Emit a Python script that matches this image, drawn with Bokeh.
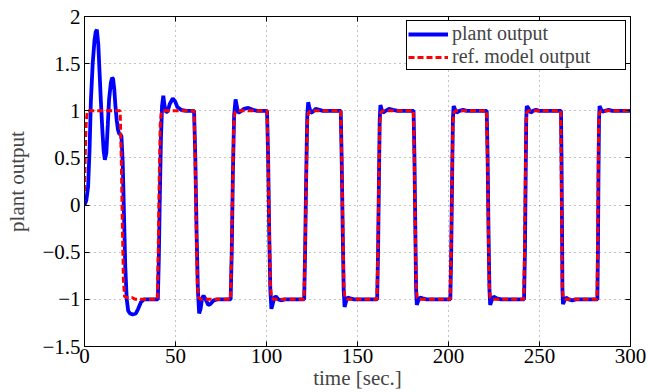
from bokeh.plotting import figure
from bokeh.models import FixedTicker, CustomJSTickFormatter, LinearAxis, Legend, LegendItem, Range1d
from bokeh.embed import file_html
from bokeh.resources import INLINE

# plant output
plant_t = [0, 1, 2, 2.8, 3.5, 4.5, 5.5, 6.2, 6.8, 7.6, 8.3, 9.0, 9.8, 10.5, 11.2, 12.0, 12.8, 13.5, 14.5, 15.2, 15.7, 16.4, 17.0, 17.7, 18.4, 19.0, 19.7, 20.3,
           21.0, 21.7, 22.4, 23.2, 24.0, 25.0, 26.5, 28.2, 29.5, 31.0, 32.7, 35.0, 38.0, 40.3,
           40.8, 41.4, 42.0, 42.6, 43.3, 44.0, 44.8, 45.6, 46.8, 48.5, 49.8, 51.0, 53.0, 56.0, 60.2,
           60.9, 61.6, 62.3, 63.0, 63.8, 64.6, 65.4, 66.6, 68.0, 69.2, 71.0, 73.0, 80.3,
           80.9, 81.5, 82.2, 83.0, 83.7, 84.4, 85.5, 87.5, 90.0, 92.5, 95.0, 100.3,
           100.9, 101.5, 102.1, 102.7, 103.4, 104.3, 105.2, 106.5, 108.0, 110.0, 120.7,
           121.2, 121.8, 122.4, 122.9, 123.5, 124.3, 125.5, 127.0, 129.0, 131.0, 140.8,
           141.3, 141.9, 142.4, 142.9, 143.6, 144.5, 146.0, 148.0, 160.8,
           161.3, 161.8, 162.2, 162.6, 163.2, 164.0, 165.5, 167.3, 169.5, 172.0, 180.8,
           181.3, 181.8, 182.2, 182.6, 183.3, 184.3, 185.8, 188.0, 201.0,
           201.5, 202.0, 202.4, 202.8, 203.5, 204.4, 206.0, 208.0, 210.0, 221.0,
           221.5, 222.0, 222.5, 222.9, 223.6, 224.8, 226.5, 229.0, 241.5,
           242.0, 242.4, 242.7, 243.0, 243.8, 245.2, 246.5, 248.0, 250.0, 261.8,
           262.1, 262.4, 262.6, 262.9, 263.6, 264.5, 266.0, 268.0, 270.0, 281.8,
           282.1, 282.4, 282.7, 283.0, 283.7, 284.6, 286.0, 288.0, 290.0, 300.0]
plant_y = [0, 0.05, 0.2, 0.6, 1.1, 1.5, 1.75, 1.84, 1.86, 1.7, 1.4, 1.1, 0.8, 0.58, 0.48, 0.55, 0.85, 1.12, 1.3, 1.35, 1.34, 1.22, 1.05, 0.9, 0.8, 0.76, 0.75, 0.73,
           0.45, -0.1, -0.65, -1.0, -1.12, -1.15, -1.16, -1.15, -1.1, -1.03, -1.0, -1.0, -1.0, -1.0,
           -0.6, 0.1, 0.7, 1.05, 1.16, 1.05, 0.99, 0.99, 1.07, 1.13, 1.1, 1.04, 1.01, 1.0, 1.0,
           0.5, -0.3, -0.9, -1.15, -1.1, -0.99, -0.96, -1.0, -1.06, -1.05, -1.01, -1.0, -1.0,
           -0.5, 0.3, 0.95, 1.12, 1.05, 0.98, 0.99, 1.02, 1.03, 1.01, 1.0, 1.0,
           0.5, -0.3, -0.9, -1.1, -1.05, -0.98, -0.97, -1.0, -1.01, -1.0, -1.0,
           -0.5, 0.3, 0.95, 1.09, 1.04, 0.98, 0.99, 1.02, 1.01, 1.0, 1.0,
           0.5, -0.3, -0.9, -1.08, -1.03, -0.98, -0.99, -1.0, -1.0,
           -0.5, 0.3, 0.9, 1.06, 1.02, 0.98, 1.0, 1.02, 1.01, 1.0, 1.0,
           0.5, -0.3, -0.9, -1.06, -1.02, -0.98, -0.99, -1.0, -1.0,
           -0.5, 0.3, 0.9, 1.05, 1.02, 0.98, 1.0, 1.01, 1.0, 1.0,
           0.5, -0.3, -0.9, -1.06, -1.02, -0.97, -0.99, -1.0, -1.0,
           -0.5, 0.3, 0.9, 1.05, 1.03, 0.98, 1.0, 1.01, 1.0, 1.0,
           0.5, -0.3, -0.9, -1.05, -1.02, -0.98, -1.0, -1.01, -1.0, -1.0,
           -0.5, 0.3, 0.9, 1.05, 1.02, 0.99, 1.0, 1.01, 1.0, 1.0]

# reference model output
ref_t = [0, 0.5, 1.0, 1.6, 19.6, 20.2, 20.8, 21.4, 22.0, 23.0, 26.0, 28.0,
         40.0, 40.5, 41.0, 41.6, 42.2, 43.5, 60.2, 60.8, 61.4, 62.0, 62.6, 64.0,
         80.2, 80.8, 81.4, 82.0, 82.6, 84.0, 100.3, 100.9, 101.5, 102.1, 102.7, 104.0,
         120.6, 121.2, 121.8, 122.4, 123.0, 124.5, 140.7, 141.3, 141.9, 142.5, 143.0, 144.5,
         160.7, 161.2, 161.7, 162.2, 162.7, 164.0, 180.7, 181.2, 181.7, 182.2, 182.7, 184.0,
         200.9, 201.4, 201.9, 202.4, 202.9, 204.0, 220.9, 221.4, 221.9, 222.4, 222.9, 224.0,
         241.3, 241.8, 242.2, 242.6, 243.0, 244.0, 261.6, 261.9, 262.2, 262.5, 262.9, 264.0,
         281.6, 281.9, 282.2, 282.5, 282.9, 284.0, 300.0]
ref_y = [0.15, 0.6, 0.9, 1.0, 1.0, 0.5, -0.2, -0.8, -0.97, -0.98, -0.98, -1.0,
         -1.0, -0.5, 0.2, 0.85, 0.98, 1.0, 1.0, 0.5, -0.2, -0.85, -0.98, -1.0,
         -1.0, -0.5, 0.2, 0.85, 0.98, 1.0, 1.0, 0.5, -0.2, -0.85, -0.98, -1.0,
         -1.0, -0.5, 0.2, 0.85, 0.98, 1.0, 1.0, 0.5, -0.2, -0.85, -0.98, -1.0,
         -1.0, -0.5, 0.2, 0.85, 0.98, 1.0, 1.0, 0.5, -0.2, -0.85, -0.98, -1.0,
         -1.0, -0.5, 0.2, 0.85, 0.98, 1.0, 1.0, 0.5, -0.2, -0.85, -0.98, -1.0,
         -1.0, -0.5, 0.2, 0.85, 0.98, 1.0, 1.0, 0.5, -0.2, -0.85, -0.98, -1.0,
         -1.0, -0.5, 0.2, 0.85, 0.98, 1.0, 1.0]

x_ticks = [0, 50, 100, 150, 200, 250, 300]
y_ticks = [-1.5, -1, -0.5, 0, 0.5, 1, 1.5, 2]

FONT = "Liberation Serif"

p = figure(width=648, height=392, output_backend="svg", toolbar_location=None,
           x_range=Range1d(0, 300), y_range=Range1d(-1.5, 2),
           min_border_left=84, min_border_right=18, min_border_top=16, min_border_bottom=43)

p.background_fill_color = "white"
p.border_fill_color = "white"
p.outline_line_color = "black"
p.outline_line_width = 1

r1 = p.line(plant_t, plant_y, line_color="#0000ff", line_width=3.8)
r2 = p.line(ref_t, ref_y, line_color="#ff0000", line_width=3, line_dash="6 3")

for ax in [p.xaxis[0], p.yaxis[0]]:
    ax.major_tick_in = 5
    ax.major_tick_out = 0
    ax.minor_tick_line_color = None
    ax.major_label_text_font = FONT
    ax.major_label_text_font_size = "21px"
    ax.major_label_text_color = "black"
    ax.axis_label_text_font = FONT
    ax.axis_label_text_font_size = "21px"
    ax.axis_label_text_font_style = "normal"
    ax.axis_line_color = "black"
    ax.major_tick_line_color = "black"

p.xaxis[0].ticker = FixedTicker(ticks=x_ticks)
p.yaxis[0].ticker = FixedTicker(ticks=y_ticks)
p.yaxis[0].formatter = CustomJSTickFormatter(code="return tick < 0 ? '\u2212' + (-tick) : '' + tick;")
p.xaxis[0].axis_label = "time [sec.]"
p.yaxis[0].axis_label = "plant output"
p.xaxis[0].major_label_standoff = 2
p.xaxis[0].axis_label_standoff = 0
p.yaxis[0].major_label_standoff = 4
p.yaxis[0].axis_label_standoff = 10

for loc, tk in [("right", y_ticks), ("above", x_ticks)]:
    ax = LinearAxis(ticker=FixedTicker(ticks=tk))
    ax.major_tick_in = 5
    ax.major_tick_out = 0
    ax.minor_tick_line_color = None
    ax.formatter = CustomJSTickFormatter(code="return '';")
    ax.major_label_standoff = 0
    ax.axis_line_color = None
    ax.major_tick_line_color = "black"
    p.add_layout(ax, loc)

p.xgrid.ticker = FixedTicker(ticks=x_ticks)
p.ygrid.ticker = FixedTicker(ticks=y_ticks)
for g in [p.xgrid[0], p.ygrid[0]]:
    g.grid_line_color = "#555555"
    g.grid_line_dash = "1 4"
    g.grid_line_alpha = 0.7
    g.grid_line_width = 1

legend = Legend(items=[LegendItem(label="plant output", renderers=[r1]),
                       LegendItem(label="ref. model output", renderers=[r2])],
                location="top_right")
legend.border_line_color = "black"
legend.border_line_width = 1
legend.border_line_alpha = 1
legend.background_fill_alpha = 1
legend.label_text_font = FONT
legend.label_text_font_size = "20px"
legend.glyph_width = 40
legend.glyph_height = 18
legend.label_height = 18
legend.label_width = 172
legend.label_standoff = 4
legend.padding = 1
legend.spacing = 0
legend.margin = 4
p.add_layout(legend)

open("out.html", "w").write(file_html(p, INLINE))
